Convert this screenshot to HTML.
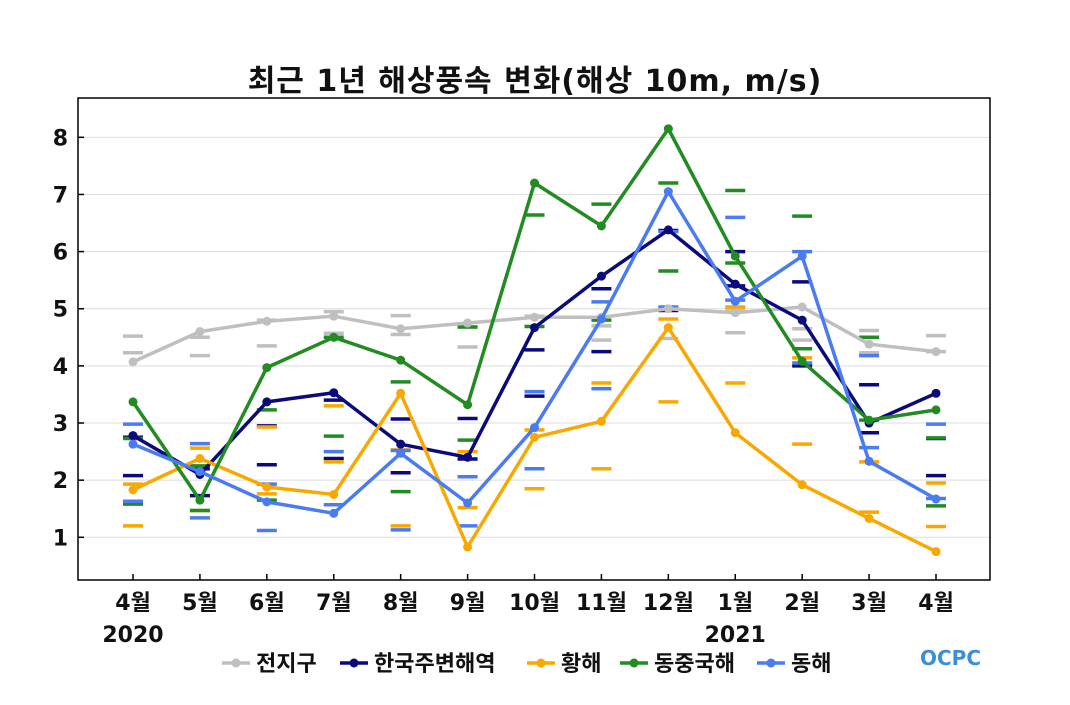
<!DOCTYPE html>
<html><head><meta charset="utf-8"><style>
body{margin:0;background:#fff;width:1070px;height:700px;overflow:hidden}
svg text{font-family:"DejaVu Sans","Noto Sans CJK KR",sans-serif;font-weight:bold}
</style></head><body>
<svg id="c" width="1070" height="700"></svg>
<script>
const months=["4월","5월","6월","7월","8월","9월","10월","11월","12월","1월","2월","3월","4월"];
const yTicks=[1,2,3,4,5,6,7,8];
const names=["전지구","한국주변해역","황해","동중국해","동해"];
const colors=["#bfbfbf","#0a0a7a","#f8a800","#228b22","#4a7cf0"];
const grayVals=[4.07,4.6,4.78,4.87,4.65,4.75,4.85,4.85,5.0,4.93,5.03,4.38,4.25];
const navyVals=[2.78,2.1,3.37,3.53,2.63,2.4,4.67,5.57,6.38,5.43,4.8,3.0,3.52];
const orangeVals=[1.83,2.38,1.88,1.75,3.52,0.83,2.75,3.03,4.67,2.83,1.92,1.33,0.75];
const greenVals=[3.37,1.65,3.97,4.5,4.1,3.32,7.2,6.45,8.15,5.92,4.08,3.05,3.23];
const blueVals=[2.63,2.15,1.62,1.42,2.47,1.6,2.92,4.82,7.05,5.13,5.92,2.33,1.67];
const grayHi=[4.52,4.5,4.8,4.95,4.88,4.68,4.87,4.7,5.0,5.0,4.65,4.62,4.53];
const grayLo=[4.23,4.18,4.35,4.57,4.55,4.33,4.85,4.45,4.48,4.58,4.45,4.23,4.25];
const navyHi=[2.75,2.2,2.95,3.4,3.07,3.08,4.28,5.35,6.37,6.0,5.47,3.67,2.73];
const navyLo=[2.08,1.73,2.27,2.38,2.13,2.37,3.47,4.25,4.97,5.4,4.0,2.83,2.08];
const orangeHi=[1.93,2.56,2.93,3.3,2.53,2.5,2.88,3.7,4.82,5.03,4.14,2.32,1.95];
const orangeLo=[1.2,1.47,1.76,2.32,1.2,1.52,1.85,2.2,3.37,3.7,2.63,1.44,1.19];
const greenHi=[2.73,2.25,3.23,4.5,3.72,4.68,6.64,6.83,7.2,7.07,6.62,4.5,2.74];
const greenLo=[1.58,1.47,1.65,2.77,1.8,2.7,4.69,4.8,5.66,5.8,4.3,3.05,1.55];
const blueHi=[2.98,2.64,1.93,2.5,2.52,2.06,3.55,5.12,6.35,6.6,6.0,4.18,2.98];
const blueLo=[1.63,1.34,1.12,1.57,1.13,1.2,2.2,3.6,5.03,5.15,4.05,2.57,1.68];

const vals=[grayVals,navyVals,orangeVals,greenVals,blueVals];
const his=[grayHi,navyHi,orangeHi,greenHi,blueHi];
const los=[grayLo,navyLo,orangeLo,greenLo,blueLo];
const keys=["global","korea-seas","yellow-sea","east-china-sea","east-sea"];
const L=78,R=990,T=98,B=580;
const x=i=>133+i*(936-133)/12;
const y=v=>537.3-(v-1)*57.14;
const svg=document.getElementById('c');
const NS="http://www.w3.org/2000/svg";
function mk(t,a,p){const e=document.createElementNS(NS,t);for(const k in a)e.setAttribute(k,a[k]);(p||svg).appendChild(e);return e;}
let t=mk('text',{x:535,y:91,'text-anchor':'middle','font-size':30,'letter-spacing':1,fill:'#111'});t.textContent="최근 1년 해상풍속 변화(해상 10m, m/s)";


yTicks.forEach(v=>{
 const g=mk('line',{x1:L,x2:R,y1:y(v),y2:y(v),stroke:'#ddd','stroke-width':1});
 
 
 const tk=mk('line',{x1:L,x2:L+6,y1:y(v),y2:y(v),stroke:'#000','stroke-width':1.5});
 
 
 const tl=mk('text',{x:68,y:y(v)+8,'text-anchor':'end','font-size':22,fill:'#111'});tl.textContent=v;
 
 
});
months.forEach((m,i)=>{
 const tk=mk('line',{x1:x(i),x2:x(i),y1:B,y2:B-6,stroke:'#000','stroke-width':1.5});
 
 
 const tl=mk('text',{x:x(i),y:610,'text-anchor':'middle','font-size':22,fill:'#111'});tl.textContent=m;
 
 
});
[[0,"2020"],[9,"2021"]].forEach(([i,s])=>{const e=mk('text',{x:x(i),y:642,'text-anchor':'middle','font-size':22,fill:'#111'});e.textContent=s;
 
 });
vals.forEach((_,s)=>{
 [his[s],los[s]].forEach(arr=>arr.forEach((v,i)=>{
  const d=mk('line',{x1:x(i)-10,x2:x(i)+10,y1:y(v),y2:y(v),stroke:colors[s],'stroke-width':3.5});
  
  
 }));
});
vals.forEach((arr,s)=>{
 const p=mk('polyline',{points:arr.map((v,i)=>x(i)+','+y(v)).join(' '),fill:'none',stroke:colors[s],'stroke-width':3.5,'stroke-linejoin':'round'});
 
 
 arr.forEach((v,i)=>{const c=mk('circle',{cx:x(i),cy:y(v),r:4.5,fill:colors[s]});
  
  });
});
const fr=mk('rect',{x:L,y:T,width:R-L,height:B-T,fill:'none',stroke:'#000','stroke-width':1.5});


const lx=[222,340,527,620,757];
names.forEach((n,s)=>{
 const g=mk('g',{});
 
 
 mk('line',{x1:lx[s],x2:lx[s]+28,y1:663,y2:663,stroke:colors[s],'stroke-width':3.5},g);
 mk('circle',{cx:lx[s]+14,cy:663,r:4.5,fill:colors[s]},g);
 const e=mk('text',{x:lx[s]+34,y:671,'font-size':22,fill:'#111'},g);e.textContent=n;
});
const lg=mk('text',{x:920,y:665,'font-size':20,fill:'#3a8fd8'});lg.textContent="OCPC";


</script>
</body></html>
